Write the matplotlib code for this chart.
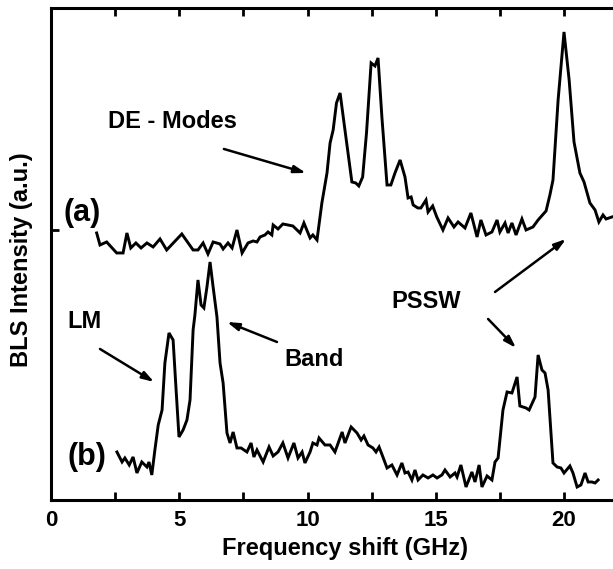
import matplotlib
matplotlib.use("Agg")
import matplotlib.pyplot as plt
from matplotlib.ticker import MultipleLocator

plt.rcParams['font.family'] = ['Liberation Sans', 'DejaVu Sans']
plt.rcParams['font.weight'] = 'bold'

# spectrum (a): frequency shift (GHz) and BLS intensity (a.u.)
freq_a = [1.78, 1.91, 2.17, 2.56, 2.81, 2.96, 3.11, 3.31, 3.51, 3.74,
          3.98, 4.25, 4.51, 5.10, 5.54, 5.73, 5.93, 6.12, 6.32, 6.59,
          6.71, 6.90, 7.06, 7.25, 7.45, 7.68, 7.88, 8.03, 8.15, 8.34,
          8.46, 8.61, 8.66, 8.85, 9.04, 9.43, 9.71, 9.86, 10.10, 10.21,
          10.37, 10.56, 10.76, 10.88, 11.00, 11.13, 11.27, 11.46, 11.73, 11.88,
          12.00, 12.15, 12.30, 12.48, 12.63, 12.75, 12.90, 13.10, 13.25, 13.41,
          13.61, 13.80, 13.92, 14.04, 14.12, 14.30, 14.42, 14.62, 14.70, 14.88,
          15.04, 15.28, 15.48, 15.71, 15.87, 16.14, 16.37, 16.61, 16.76, 16.96,
          17.19, 17.39, 17.50, 17.70, 17.82, 17.97, 18.13, 18.36, 18.52, 18.79,
          18.99, 19.30, 19.45, 19.57, 19.77, 20.00, 20.20, 20.39, 20.62, 20.78,
          21.01, 21.21, 21.36, 21.52, 21.64, 21.87]
bls_a = [267, 255, 258, 247, 247, 267, 252, 257, 252, 257,
         253, 261, 250, 266, 250, 250, 257, 246, 258, 256,
         251, 257, 252, 270, 247, 257, 259, 258, 263, 265,
         268, 265, 275, 271, 276, 274, 267, 277, 262, 265,
         260, 297, 327, 357, 370, 397, 407, 370, 318, 317,
         314, 323, 367, 437, 434, 442, 383, 315, 315, 327,
         340, 323, 302, 303, 295, 292, 292, 300, 288, 294,
         283, 270, 282, 273, 278, 272, 287, 263, 280, 265,
         268, 280, 268, 277, 267, 277, 265, 281, 270, 273,
         280, 289, 305, 320, 400, 468, 420, 358, 327, 318,
         297, 290, 278, 285, 281, 283]

# spectrum (b)
freq_b = [2.57, 2.77, 2.88, 3.05, 3.20, 3.35, 3.54, 3.74, 3.82, 3.93,
          4.05, 4.18, 4.33, 4.44, 4.60, 4.76, 4.87, 4.99, 5.15, 5.30,
          5.42, 5.54, 5.61, 5.73, 5.85, 5.96, 6.08, 6.20, 6.32, 6.47,
          6.59, 6.71, 6.86, 6.98, 7.10, 7.25, 7.41, 7.64, 7.80, 7.91,
          8.03, 8.27, 8.50, 8.66, 8.85, 9.04, 9.24, 9.47, 9.63, 9.79,
          9.90, 10.10, 10.21, 10.37, 10.45, 10.68, 10.88, 11.07, 11.35, 11.46,
          11.70, 11.93, 12.09, 12.20, 12.36, 12.55, 12.67, 12.79, 12.94, 13.10,
          13.29, 13.49, 13.68, 13.80, 13.92, 14.07, 14.19, 14.31, 14.50, 14.70,
          14.89, 15.05, 15.24, 15.36, 15.56, 15.75, 15.83, 15.98, 16.18, 16.41,
          16.53, 16.69, 16.80, 17.00, 17.19, 17.31, 17.43, 17.62, 17.78, 17.97,
          18.17, 18.28, 18.52, 18.64, 18.87, 18.99, 19.14, 19.26, 19.38, 19.57,
          19.73, 19.88, 20.00, 20.23, 20.35, 20.51, 20.66, 20.82, 20.94, 21.09,
          21.21, 21.33]
bls_b = [48, 38, 42, 35, 43, 27, 38, 33, 38, 25,
         50, 75, 90, 137, 167, 160, 113, 63, 70, 80,
         100, 170, 185, 220, 195, 192, 213, 238, 213, 183,
         137, 117, 67, 57, 68, 52, 52, 48, 57, 43,
         50, 38, 53, 44, 48, 57, 42, 57, 42, 48,
         37, 48, 57, 55, 62, 55, 55, 48, 68, 57,
         73, 67, 60, 64, 55, 52, 48, 53, 43, 32,
         35, 25, 37, 27, 28, 20, 30, 20, 25, 22,
         25, 22, 25, 30, 23, 27, 23, 35, 13, 28,
         18, 35, 13, 24, 20, 38, 42, 90, 108, 107,
         123, 94, 92, 90, 103, 145, 130, 127, 110, 37,
         33, 32, 27, 34, 27, 13, 15, 27, 18, 18,
         17, 20]

# text labels and arrows (label, text pos, arrow tail, arrow head)
labels = ["DE - Modes", "LM", "Band", "PSSW"]
label_pos = [(4.72, 378), (1.29, 178), (10.25, 140), (14.62, 198)]
arrows = [((6.74, 351), (9.94, 327)),
          ((1.91, 151), (4.02, 118)),
          ((8.81, 158), (6.86, 178)),
          ((17.31, 208), (20.08, 261)),
          ((17.04, 181), (18.13, 152))]

fig = plt.figure(figsize=(6.13, 5.69), dpi=100)
ax = fig.add_axes([0.0832, 0.1213, 0.9168, 0.8647])

ax.plot(freq_a, bls_a, color='black', lw=2.1, solid_joinstyle='miter')
ax.plot(freq_b, bls_b, color='black', lw=2.1, solid_joinstyle='miter')

ax.set_xlim(0, 21.91)
ax.set_ylim(0, 492)

for txt, (x, y) in zip(labels, label_pos):
    ax.text(x, y, txt, fontsize=17, fontweight='bold', ha='center', va='center')
ax.text(1.21, 287, "(a)", fontsize=22, fontweight='bold', ha='center', va='center')
ax.text(1.40, 43, "(b)", fontsize=22, fontweight='bold', ha='center', va='center')

for tail, head in arrows:
    ax.annotate('', xy=head, xytext=tail,
                arrowprops=dict(arrowstyle='-|>,head_length=0.7,head_width=0.22',
                                color='black', lw=1.8, shrinkA=0, shrinkB=0))

ax.xaxis.set_major_locator(MultipleLocator(5))
ax.xaxis.set_minor_locator(MultipleLocator(2.5))
ax.set_yticks([270])
ax.set_yticklabels([])
ax.tick_params(axis='x', which='both', direction='in', top=True, length=6, width=2,
               labelsize=16, pad=7)
ax.tick_params(axis='y', direction='in', length=6, width=2)
for lab in ax.get_xticklabels():
    lab.set_fontweight('bold')

for side in ['left', 'bottom', 'top']:
    ax.spines[side].set_linewidth(2.2)
ax.spines['right'].set_visible(False)

ax.set_xlabel("Frequency shift (GHz)", fontsize=17, fontweight='bold')
ax.xaxis.set_label_coords(0.523, -0.075)
ax.set_ylabel("BLS Intensity (a.u.)", fontsize=17, fontweight='bold')
ax.yaxis.set_label_coords(-0.032, 0.488)

fig.savefig("out.png", dpi=100)
